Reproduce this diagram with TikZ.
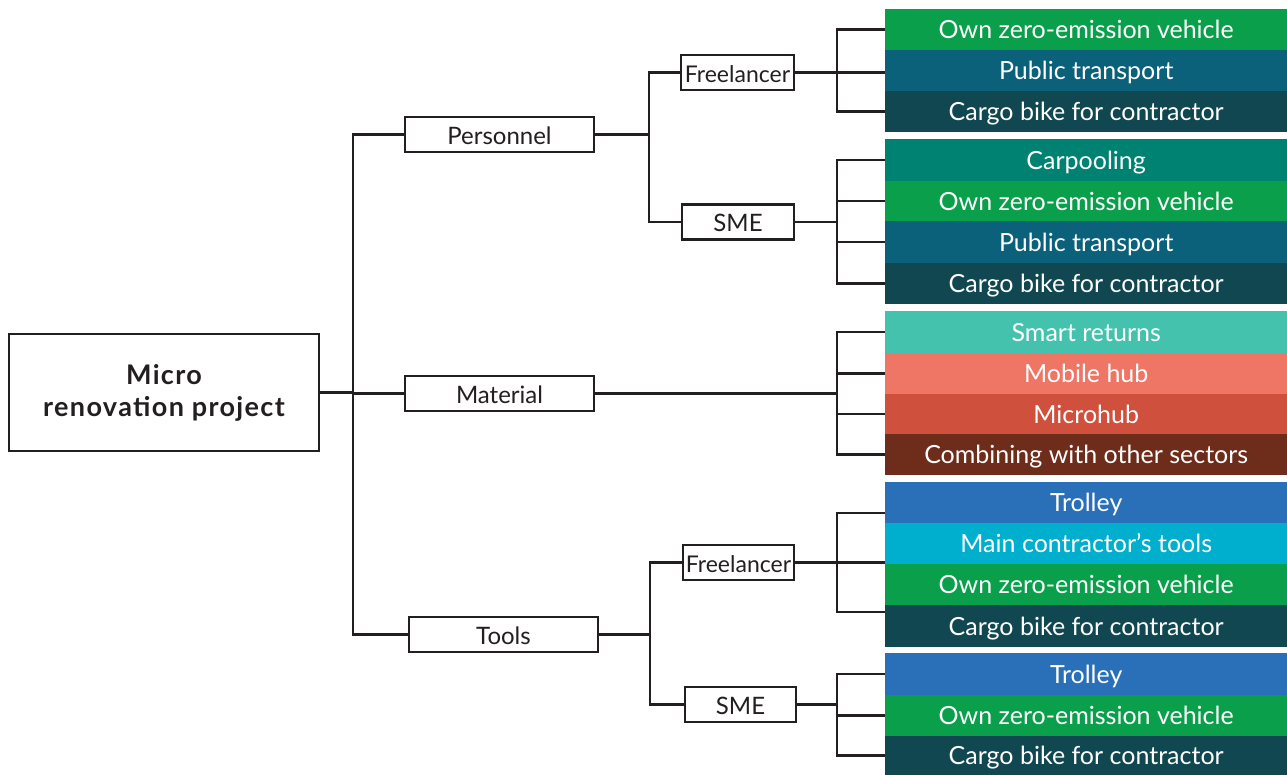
\documentclass[tikz,border=0pt]{standalone}
\usepackage{fontspec}
\setmainfont{Lato}
\usetikzlibrary{backgrounds}
\definecolor{cLine}{RGB}{35,31,32}
\definecolor{cGreen}{RGB}{10,160,75}
\definecolor{cPublic}{RGB}{11,96,122}
\definecolor{cCargo}{RGB}{17,71,80}
\definecolor{cCarpool}{RGB}{0,130,115}
\definecolor{cSmart}{RGB}{69,194,174}
\definecolor{cMobile}{RGB}{239,118,101}
\definecolor{cMicro}{RGB}{207,80,60}
\definecolor{cComb}{RGB}{110,44,27}
\definecolor{cTrolley}{RGB}{42,112,184}
\definecolor{cTools}{RGB}{0,174,206}
\begin{document}
\begin{tikzpicture}[x=1pt,y=-1pt,
  lab/.style={draw=cLine, line width=2.5pt, fill=white, inner sep=0pt, minimum height=35pt, text=cLine, font=\fontsize{24}{26}\selectfont, text height=23pt, text depth=4pt},
  bar/.style={inner sep=0pt, minimum width=402pt, anchor=west, text=white, font=\fontsize{25}{28}\selectfont, text height=22pt, text depth=4pt},
  conn/.style={draw=cLine, line width=2.5pt, line cap=rect}]
\useasboundingbox (0,0) rectangle (1287,774);
% main box
\node[draw=cLine, line width=2.5pt, fill=white, inner sep=0pt, text=cLine, minimum width=310pt, minimum height=117pt, align=center, font=\fontsize{27}{32}\selectfont\bfseries\addfontfeatures{LetterSpace=5}] (main) at (164,392.5) {Micro\\renovation project};
% level 1
\node[lab, minimum width=189pt] (pers) at (499.5,134.5) {Personnel};
\node[lab, minimum width=189pt] (mat) at (499.5,393.5) {Material};
\node[lab, minimum width=189pt] (tools) at (503.5,634.5) {Tools};
% level 2
\node[lab, minimum width=113pt, font=\fontsize{23}{26}\selectfont] (fP) at (737.5,72.5) {Freelancer};
\node[lab, minimum width=112pt] (sP) at (738,222) {SME};
\node[lab, minimum width=111pt, font=\fontsize{23}{26}\selectfont] (fT) at (738.5,562.5) {Freelancer};
\node[lab, minimum width=111pt] (sT) at (740.5,704.5) {SME};
% bars group 1
\node[bar, fill=cGreen, minimum height=41pt] (a1) at (885,29.5) {Own zero-emission vehicle};
\node[bar, fill=cPublic, minimum height=41pt] (a2) at (885,70.5) {Public transport};
\node[bar, fill=cCargo, minimum height=41pt] (a3) at (885,111.5) {Cargo bike for contractor};
% group 2
\node[bar, fill=cCarpool, minimum height=42pt] (b1) at (885,160) {Carpooling};
\node[bar, fill=cGreen, minimum height=40pt] (b2) at (885,201) {Own zero-emission vehicle};
\node[bar, fill=cPublic, minimum height=42pt] (b3) at (885,242) {Public transport};
\node[bar, fill=cCargo, minimum height=41pt] (b4) at (885,283.5) {Cargo bike for contractor};
% group 3
\node[bar, fill=cSmart, minimum height=42pt] (c1) at (885,332) {Smart returns};
\node[bar, fill=cMobile, minimum height=41pt] (c2) at (885,373.5) {Mobile hub};
\node[bar, fill=cMicro, minimum height=40pt] (c3) at (885,414) {Microhub};
\node[bar, fill=cComb, minimum height=41pt] (c4) at (885,454.5) {Combining with other sectors};
% group 4
\node[bar, fill=cTrolley, minimum height=41pt] (d1) at (885,502.5) {Trolley};
\node[bar, fill=cTools, minimum height=41pt] (d2) at (885,543.5) {Main contractor’s tools};
\node[bar, fill=cGreen, minimum height=41pt] (d3) at (885,584.5) {Own zero-emission vehicle};
\node[bar, fill=cCargo, minimum height=42pt] (d4) at (885,626) {Cargo bike for contractor};
% group 5
\node[bar, fill=cTrolley, minimum height=42pt] (e1) at (885,674) {Trolley};
\node[bar, fill=cGreen, minimum height=41pt] (e2) at (885,715.5) {Own zero-emission vehicle};
\node[bar, fill=cCargo, minimum height=39pt] (e3) at (885,755.5) {Cargo bike for contractor};
% coordinates
\coordinate (t0) at (353,0);
\coordinate (tp) at (649,0);
\coordinate (tt) at (650,0);
\coordinate (g) at (837,0);
\coordinate (g4a) at (837,513);
\coordinate (g4c) at (837,612);
\begin{scope}[on background layer]
% trunk
\draw[conn] (main.east) -- (main.east -| t0);
\draw[conn] (t0 |- pers.west) -- (t0 |- tools.west);
\draw[conn] (t0 |- pers.west) -- (pers.west);
\draw[conn] (t0 |- mat.west) -- (mat.west);
\draw[conn] (t0 |- tools.west) -- (tools.west);
% personnel
\draw[conn] (pers.east) -- (pers.east -| tp);
\draw[conn] (tp |- fP.west) -- (tp |- sP.west);
\draw[conn] (tp |- fP.west) -- (fP.west);
\draw[conn] (tp |- sP.west) -- (sP.west);
% group 1
\draw[conn] (g |- a1.west) -- (g |- a3.west);
\draw[conn] (g |- a1.west) -- (a1.west);
\draw[conn] (fP.east) -- (fP.east -| a2.west);
\draw[conn] (g |- a3.west) -- (a3.west);
% group 2
\draw[conn] (g |- b1.west) -- (g |- b4.west);
\draw[conn] (g |- b1.west) -- (b1.west);
\draw[conn] (g |- b2.west) -- (b2.west);
\draw[conn] (g |- b3.west) -- (b3.west);
\draw[conn] (g |- b4.west) -- (b4.west);
\draw[conn] (sP.east) -- (sP.east -| g);
% group 3
\draw[conn] (g |- c1.west) -- (g |- c4.west);
\draw[conn] (g |- c1.west) -- (c1.west);
\draw[conn] (g |- c2.west) -- (c2.west);
\draw[conn] (g |- c3.west) -- (c3.west);
\draw[conn] (g |- c4.west) -- (c4.west);
\draw[conn] (mat.east) -- (mat.east -| g);
% tools
\draw[conn] (tools.east) -- (tools.east -| tt);
\draw[conn] (tt |- fT.west) -- (tt |- sT.west);
\draw[conn] (tt |- fT.west) -- (fT.west);
\draw[conn] (tt |- sT.west) -- (sT.west);
% group 4
\draw[conn] (g4a) -- (g4c);
\draw[conn] (g4a) -- (g4a -| d1.west);
\draw[conn] (fT.east) -- (fT.east -| d2.west);
\draw[conn] (g4c) -- (g4c -| d4.west);
% group 5
\draw[conn] (g |- e1.west) -- (g |- e3.west);
\draw[conn] (g |- e1.west) -- (e1.west);
\draw[conn] (g |- e2.west) -- (e2.west);
\draw[conn] (g |- e3.west) -- (e3.west);
\draw[conn] (sT.east) -- (sT.east -| g);
\end{scope}
\end{tikzpicture}
\end{document}
